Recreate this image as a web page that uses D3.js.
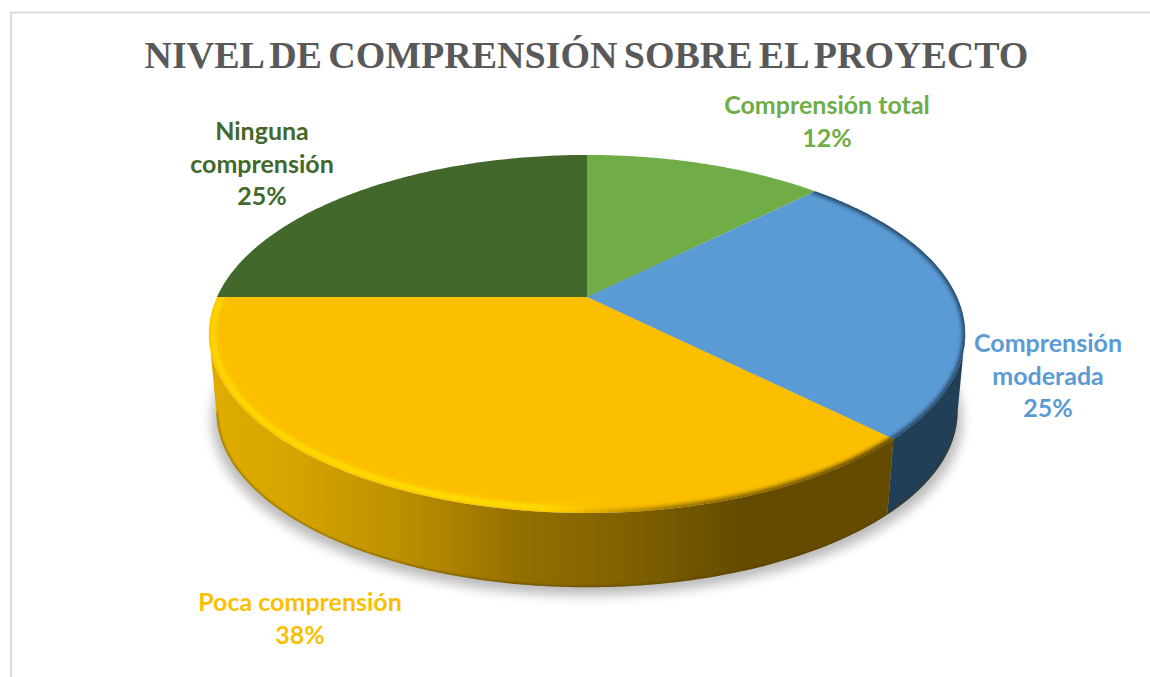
<!DOCTYPE html>
<html><head><meta charset="utf-8">
<script src="https://cdn.jsdelivr.net/npm/d3@7"></script>
<style>html,body{margin:0;background:#fff}svg{display:block}</style></head>
<body><svg id="c" width="1150" height="677"></svg>
<script>
const titleText = "NIVEL DE COMPRENSIÓN SOBRE EL PROYECTO";
const categories = ["Comprensión total","Comprensión moderada","Poca comprensión","Ninguna comprensión"];
const values = [12.5,25,37.5,25];
const percentLabels = ["12%","25%","38%","25%"];
const colors = ["#70ad47","#5b9bd5","#fcbf00","#43682b"];
const labelLines = [["Comprensión total","12%"],["Comprensión","moderada","25%"],["Poca comprensión","38%"],["Ninguna","comprensión","25%"]];
const labelPos = [[827,114],[1048,352],[300,611],[262,140]];

const svg = d3.select("#c");
const defs = svg.append("defs");
const cx=587, cy=297, A=370, B=171.4, k=0.2067, depth=78.5, sB=0.98;
const pie = d3.pie().sort(null).value(d=>d)(values);
const TAU=2*Math.PI;
const top3 = t=>{const x=Math.sin(t),y=Math.cos(t),w=1+k*y;return [cx+A*x/w, cy-B*y/w];};
const bot3 = t=>{const x=Math.sin(t),y=Math.cos(t),w=1+k*y;return [cx+A*sB*x/w, cy+depth-B*sB*y/w];};
const samples=(a,b,n=120)=>d3.range(n+1).map(i=>a+(b-a)*i/n);
const line=d3.line();
const tanR=Math.acos(-k), tanL=TAU-tanR;

// border
svg.append("path").attr("d","M1150,12.5H11V677").attr("fill","none").attr("stroke","#dcdcdc").attr("stroke-width",2);

// filters
const blur=(id,s)=>defs.append("filter").attr("id",id).attr("x","-20%").attr("y","-20%").attr("width","140%").attr("height","140%")
  .append("feGaussianBlur").attr("stdDeviation",s);
blur("bShadow",6); blur("bBevel",2.2); blur("bEdge",1.2);

// shadow
const shadowPts=samples(0,TAU,240).map(t=>{const p=bot3(t);return [cx+(p[0]-cx)*1.012,p[1]+8];});
svg.append("path").attr("d",line(shadowPts)+"Z").attr("fill","#000").attr("opacity",.27).attr("filter","url(#bShadow)");

// wall gradient for the large slice
const wallX=d3.scaleLinear().domain([0,1]).range([209,893]);
const g=defs.append("linearGradient").attr("id","wallY").attr("gradientUnits","userSpaceOnUse")
 .attr("x1",wallX(0)).attr("x2",wallX(1)).attr("y1",0).attr("y2",0);
[[0,"#e0ac00"],[.12,"#d6a500"],[.28,"#bd9000"],[.45,"#947000"],[.62,"#7f6000"],[.78,"#654b00"],[1,"#654b00"]]
 .forEach(s=>g.append("stop").attr("offset",s[0]).attr("stop-color",s[1]));

const wallPath=(a,b)=>line(samples(a,b).map(top3).concat(samples(b,a).map(bot3)))+"Z";
const wallEnd=[pie[1].endAngle,tanL];
const wallBlue=[tanR,pie[1].endAngle];
svg.append("clipPath").attr("id","cw").append("path").attr("d",wallPath(tanR,tanL));
svg.append("path").attr("d",wallPath(...wallBlue)).attr("fill","#223f58");
svg.append("path").attr("d",wallPath(...wallEnd)).attr("fill","url(#wallY)");
// dark lower lip of wall
svg.append("g").attr("clip-path","url(#cw)").append("path")
  .attr("d",line(samples(tanR,tanL).map(bot3))).attr("fill","none").attr("stroke","#4d3a00").attr("stroke-opacity",.55)
  .attr("stroke-width",2.5).attr("filter","url(#bEdge)");

// top faces
const slicePath=d=>line([[cx,cy]].concat(samples(d.startAngle,d.endAngle).map(top3)))+"Z";
svg.selectAll("path.slice").data(pie).join("path").attr("class","slice")
  .attr("d",slicePath).attr("fill",(d,i)=>colors[i]);

// bevels
const grad=(id,stops)=>{const b=defs.append("linearGradient").attr("id",id).attr("gradientUnits","userSpaceOnUse")
 .attr("x1",wallX(0)).attr("x2",wallX(1)).attr("y1",0).attr("y2",0);
 stops.forEach(s=>b.append("stop").attr("offset",s[0]).attr("stop-color",s[1]).attr("stop-opacity",s[2]));};
grad("bevLight",[[0,"#ffe600",.9],[.3,"#ffec00",1],[.48,"#fff000",.9],[.6,"#ffd800",0],[1,"#ffd800",0]]);
grad("bevDark",[[0,"#5a4300",0],[.52,"#5a4300",0],[.68,"#5a4300",.7],[1,"#4a3700",1]]);
pie.forEach((d,i)=>{
  if(i!==1&&i!==2) return;
  const id="cs"+i;
  svg.append("clipPath").attr("id",id).append("path").attr("d",slicePath(d));
  const arc=samples(d.startAngle-.02,d.endAngle+.02).map(top3);
  const gg=svg.append("g").attr("clip-path",`url(#${id})`);
  if(i===2){
    gg.append("path").attr("d",line(arc.map(p=>[p[0]+(cx-p[0])*.012,p[1]+(cy-p[1])*.02]))).attr("fill","none")
     .attr("stroke","url(#bevLight)").attr("stroke-width",4).attr("filter","url(#bBevel)");
    gg.append("path").attr("d",line(arc)).attr("fill","none")
     .attr("stroke","url(#bevDark)").attr("stroke-width",6).attr("filter","url(#bBevel)");
  } else {
    gg.append("path").attr("d",line(arc)).attr("fill","none")
     .attr("stroke","#1f3a55").attr("stroke-width",5).attr("filter","url(#bBevel)");
  }
});

// title
svg.append("text").attr("x",586.5).attr("y",68).attr("text-anchor","middle")
 .attr("font-family","'Liberation Serif'").attr("font-weight",700).attr("font-size",38).attr("word-spacing",-3.2).attr("fill","#595959").text(titleText);

// labels
labelLines.forEach((ls,i)=>{
  const t=svg.append("text").attr("text-anchor","middle").attr("font-family","Lato").attr("font-weight",700)
    .attr("font-size",25).attr("fill",colors[i]);
  ls.forEach((s,j)=>t.append("tspan").attr("x",labelPos[i][0]).attr("y",labelPos[i][1]+j*32.5).text(s));
});
</script></body></html>
